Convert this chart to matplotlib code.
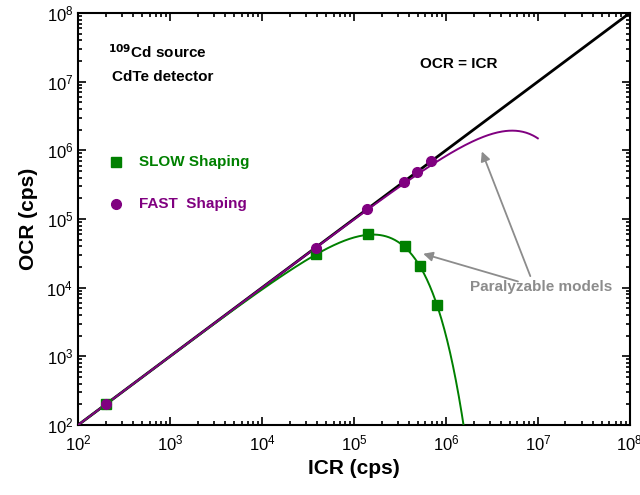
import numpy as np
import matplotlib
matplotlib.use("Agg")
import matplotlib.pyplot as plt

plt.rcParams['font.family'] = ['Liberation Sans', 'DejaVu Sans']
plt.rcParams['mathtext.default'] = 'regular'

# measured input/output count rates (cps)
icr_slow = [2e2, 3.9e4, 1.42e5, 3.56e5, 5.2e5, 8.0e5]
ocr_slow = [2e2, 3.1e4, 6.0e4, 4.1e4, 2.1e4, 5.6e3]
icr_fast = [2e2, 3.9e4, 1.4e5, 3.5e5, 4.8e5, 6.9e5]
ocr_fast = [2e2, 3.8e4, 1.39e5, 3.5e5, 4.8e5, 6.9e5]

# paralyzable dead times (s)
tau_slow = 6.2e-6
tau_fast = 1.9e-7

green = '#008000'
purple = '#800080'
grey = '#8c8c8c'

fig = plt.figure(figsize=(6.4, 4.95), dpi=100)
ax = fig.add_axes([0.122, 0.1414, 0.862, 0.8323])

ident = np.array([1e2, 1e8])
ax.plot(ident, ident, color='black', lw=2, zorder=2)

x_slow = np.logspace(2, np.log10(1.6e6), 400)
ax.plot(x_slow, x_slow * np.exp(-x_slow * tau_slow), color=green, lw=1.4, zorder=3)
x_fast = np.logspace(2, 7, 400)
ax.plot(x_fast, x_fast * np.exp(-x_fast * tau_fast), color=purple, lw=1.4, zorder=3)

ax.plot(icr_slow, ocr_slow, 's', color=green, ms=7, ls='none', zorder=4)
ax.plot(icr_fast, ocr_fast, 'o', color=purple, ms=7, ls='none', zorder=5)

ax.set_xscale('log')
ax.set_yscale('log')
ax.set_xlim(1e2, 1e8)
ax.set_ylim(1e2, 1e8)
for s in ax.spines.values():
    s.set_linewidth(1.5)
ax.tick_params(which='both', direction='in', top=True, right=True, width=1.2, labelsize=12)
ax.tick_params(which='major', length=6)
ax.tick_params(which='minor', length=3)
ax.xaxis.set_minor_locator(matplotlib.ticker.LogLocator(base=10, subs=np.arange(2, 10), numticks=20))
ax.yaxis.set_minor_locator(matplotlib.ticker.LogLocator(base=10, subs=np.arange(2, 10), numticks=20))
ax.xaxis.set_minor_formatter(matplotlib.ticker.NullFormatter())
ax.yaxis.set_minor_formatter(matplotlib.ticker.NullFormatter())
ax.tick_params(axis='x', pad=6)

ax.set_xlabel('ICR (cps)', fontsize=15, fontweight='bold', labelpad=4)
ax.set_ylabel('OCR (cps)', fontsize=15, fontweight='bold', labelpad=6)

ax.text(0.055, 0.905, r'$^{\mathbf{109}}$Cd source', transform=ax.transAxes,
        fontsize=11, fontweight='bold', va='center')
ax.text(0.062, 0.845, 'CdTe detector', transform=ax.transAxes,
        fontsize=11, fontweight='bold', va='center')
ax.text(0.62, 0.877, 'OCR = ICR', transform=ax.transAxes,
        fontsize=11, fontweight='bold', va='center')

ax.plot([0.069], [0.638], 's', color=green, ms=7, transform=ax.transAxes, clip_on=False)
ax.text(0.11, 0.638, 'SLOW Shaping', transform=ax.transAxes, color=green,
        fontsize=11, fontweight='bold', va='center')
ax.plot([0.069], [0.537], 'o', color=purple, ms=7, transform=ax.transAxes, clip_on=False)
ax.text(0.11, 0.537, 'FAST  Shaping', transform=ax.transAxes, color=purple,
        fontsize=11, fontweight='bold', va='center')

ax.text(0.71, 0.335, 'Paralyzable models', transform=ax.transAxes, color=grey,
        fontsize=11, fontweight='bold', va='center')
arrow = dict(arrowstyle='-|>', color=grey, lw=1.3, mutation_scale=14)
ax.annotate('', xy=(2.4e6, 1.05e6), xytext=(8.5e6, 1.35e4), arrowprops=arrow)
ax.annotate('', xy=(5.3e5, 3.2e4), xytext=(6.5e6, 1.2e4), arrowprops=arrow)

fig.savefig('out.png', dpi=100)
